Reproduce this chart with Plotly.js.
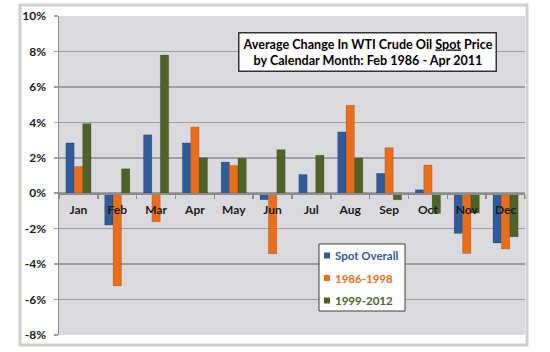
<!DOCTYPE html>
<html>
<head>
<meta charset="utf-8">
<script src="https://cdn.plot.ly/plotly-3.0.1.min.js"></script>
<style>html,body{margin:0;padding:0;background:#fff;}#chart{width:550px;height:352px;}</style>
</head>
<body>
<div id="chart"></div>
<script>
const months = ["Jan","Feb","Mar","Apr","May","Jun","Jul","Aug","Sep","Oct","Nov","Dec"];
const spotOverall = [2.84, -1.80, 3.30, 2.84, 1.76, -0.37, 1.06, 3.46, 1.12, 0.20, -2.27, -2.81];
const p1986_1998 = [1.51, -5.23, -1.61, 3.74, 1.57, -3.42, -0.05, 4.96, 2.57, 1.59, -3.40, -3.15];
const p1999_2012 = [3.93, 1.38, 7.80, 2.00, 1.97, 2.46, 2.14, 1.99, -0.37, -1.14, -1.12, -2.46];
const seriesNames = ["Spot Overall", "1986-1998", "1999-2012"];
const seriesColors = ["#2f5b9a", "#ea6e17", "#4f6228"];
const yTickVals = [-8,-6,-4,-2,0,2,4,6,8,10];
const yTickText = yTickVals.map(v => v + "%");

const series = [spotOverall, p1986_1998, p1999_2012];
const traces = series.map((vals, i) => ({
  type: "bar",
  x: months,
  y: vals,
  name: seriesNames[i],
  marker: {color: seriesColors[i], line: {color: "rgba(0,0,0,0.25)", width: 0.5}},
  hoverinfo: "skip"
}));

// pixel -> paper helpers (plot area 59..525 x 16..335)
const PX = p => (p - 59) / 466;
const PY = p => (335 - p) / 319;

const font = "Lato, 'Open Sans', sans-serif";

const annotations = [{
  xref: "paper", yref: "paper",
  x: PX(367), y: PY(52.5),
  xanchor: "center", yanchor: "middle",
  text: "<b>Average Change In WTI Crude Oil <u>Spot</u> Price<br>by Calendar Month: Feb 1986 - Apr 2011</b>",
  showarrow: false,
  font: {family: font, size: 12.6, color: "#000000"},
  bgcolor: "#ffffff", bordercolor: "#333333", borderwidth: 1.5,
  borderpad: 3, align: "center"
}];
const shapes = [{
  type: "rect", xref: "paper", yref: "paper",
  x0: PX(20), x1: PX(527), y0: PY(345), y1: PY(5),
  line: {color: "#d0d0d0", width: 3}, fillcolor: "rgba(0,0,0,0)"
}, {
  type: "rect", xref: "paper", yref: "paper",
  x0: PX(319), x1: PX(405), y0: PY(311), y1: PY(244),
  line: {color: "#404040", width: 1}, fillcolor: "#ffffff"
}];
const legendY = [255.5, 278, 300.5];
seriesNames.forEach((nm, i) => {
  shapes.push({
    type: "rect", xref: "paper", yref: "paper",
    x0: PX(324), x1: PX(330), y0: PY(legendY[i] + 3), y1: PY(legendY[i] - 3),
    line: {width: 0}, fillcolor: seriesColors[i]
  });
  annotations.push({
    xref: "paper", yref: "paper", x: PX(333), y: PY(legendY[i]),
    xanchor: "left", yanchor: "middle", showarrow: false,
    text: "<b>" + nm + "</b>",
    font: {family: font, size: 11.5, color: seriesColors[i]}
  });
});

const layout = {
  width: 550, height: 352,
  margin: {l: 59, r: 25, t: 16, b: 17},
  paper_bgcolor: "#ffffff",
  plot_bgcolor: "#dadade",
  barmode: "group",
  bargap: 0.35,
  bargroupgap: 0,
  showlegend: false,
  font: {family: font, color: "#1a1a1a"},
  xaxis: {
    type: "category",
    anchor: "free",
    position: 8/18,
    showline: true, linecolor: "#8c8c8c", linewidth: 1.5,
    ticks: "outside", tickson: "boundaries", ticklen: 4, tickcolor: "#8c8c8c", tickwidth: 1.5,
    tickfont: {family: font, size: 12, color: "#1a1a1a", weight: "bold"},
    ticklabelstandoff: 5,
    showgrid: false, zeroline: false,
    fixedrange: true
  },
  yaxis: {
    range: [-8, 10],
    tickvals: yTickVals, ticktext: yTickText,
    showgrid: true, gridcolor: "#a0a0a0", gridwidth: 1.5,
    zeroline: false,
    showline: true, linecolor: "#8c8c8c", linewidth: 1.5,
    ticks: "outside", ticklen: 4, tickcolor: "#a0a0a0", tickwidth: 1.5,
    tickfont: {family: font, size: 12, color: "#1a1a1a", weight: "bold"},
    ticklabelstandoff: 5,
    fixedrange: true
  },
  annotations: annotations,
  shapes: shapes
};
Plotly.newPlot("chart", traces, layout, {staticPlot: true, displayModeBar: false});
</script>
</body>
</html>
